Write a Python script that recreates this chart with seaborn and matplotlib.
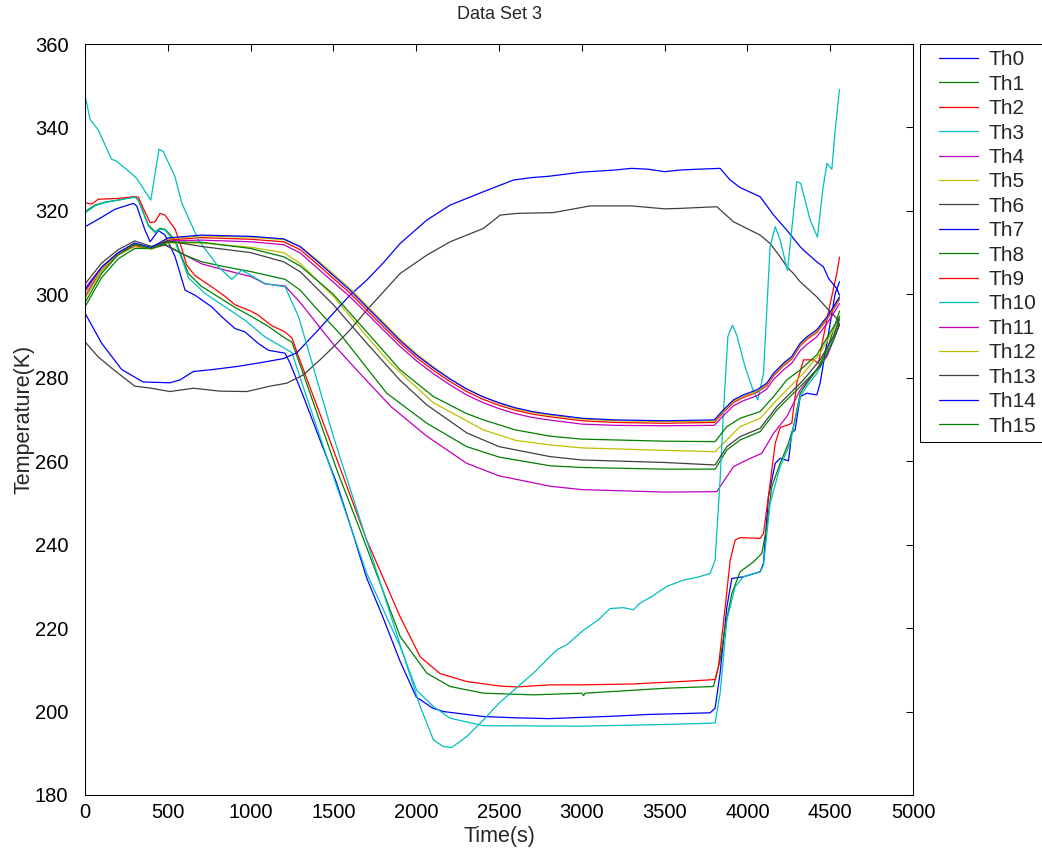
import matplotlib
matplotlib.use("Agg")
import matplotlib.pyplot as plt
from matplotlib.lines import Line2D
from matplotlib.legend_handler import HandlerLine2D
import seaborn as sns
import pandas as pd

# ---------------- data: thermocouple readings (time in s, temperature in K) ----------------
th0_t = [0, 80, 181, 292, 312, 362, 393, 443, 483, 544, 604, 664, 765, 826, 906, 966, 1047, 1107, 1208, 1238,
         1319, 1419, 1520, 1611, 1701, 1800, 1903, 2000, 2100, 2164, 2406, 2600, 2800, 3000, 3200, 3400, 3600, 3775,
         3805, 3835, 3876, 3906, 3976, 4077, 4097, 4127, 4168, 4198, 4248, 4268, 4288, 4319, 4359, 4419, 4439,
         4490, 4530, 4556]
th0_v = [316.2, 318, 320.4, 321.8, 321.2, 315.4, 312.6, 315.3, 314.2, 309, 301, 299.8, 297, 294.6, 291.8, 291, 288.2,
         286.6, 285.9, 283.5, 275.5, 265.1, 254.7, 243.5, 232, 222.5, 212, 203.5, 200.8, 200, 198.8, 198.5, 198.3,
         198.6, 198.9, 199.3, 199.5, 199.7, 200.8, 209.2, 225.1, 231.9, 232.3, 233.5, 235.5, 251.5, 259.5, 260.7,
         260.1, 266.7, 267.5, 275.5, 276.3, 275.9, 278.7, 290.7, 300.2, 303]

th1_t = [0, 60, 121, 200, 302, 322, 383, 423, 453, 483, 544, 584, 624, 700, 800, 900, 1000, 1100, 1208, 1250,
         1300, 1520, 1661, 1903, 2064, 2205, 2406, 2708, 3000, 3010, 3020, 3513, 3795, 3835, 3866, 3906, 3956,
         4037, 4087, 4117, 4147, 4198, 4248, 4278, 4319, 4359, 4419, 4480, 4520, 4556]
th1_v = [319.8, 321.4, 322.1, 322.6, 323.4, 322.6, 316.6, 315, 315.8, 315.6, 313, 309, 305, 302, 299.5, 297, 294.8,
         292.5, 289.5, 288.5, 283, 258, 243.5, 218, 209.2, 206, 204.4, 204, 204.4, 203.8, 204.4, 205.6, 206,
         212.3, 220.3, 228.3, 233.5, 235.9, 237.9, 244.3, 253.9, 259.5, 264.3, 268.3, 276.3, 278.7, 281.9, 286.7,
         291.5, 296]

th2_t = [0, 40, 80, 200, 300, 322, 352, 393, 423, 453, 483, 544, 584, 614, 664, 765, 846, 906, 1000, 1047, 1127,
         1208, 1250, 1290, 1500, 1701, 1903, 2024, 2144, 2305, 2507, 2606, 2809, 3000, 3300, 3600, 3775, 3805,
         3825, 3866, 3896, 3926, 3956, 4077, 4097, 4127, 4168, 4198, 4238, 4268, 4298, 4339, 4399, 4429, 4459,
         4500, 4540, 4556]
th2_v = [322, 321.6, 322.8, 323, 323.4, 323.3, 320.6, 317.2, 317.4, 319.4, 319, 315.6, 311, 307, 304.5, 301.8,
         299.5, 297.5, 296, 295, 292.5, 291, 289.5, 285, 262.7, 241.1, 222.7, 213.1, 209.1, 207.2, 206.1, 205.9,
         206.4, 206.4, 206.6, 207.2, 207.6, 207.7, 210.7, 225.1, 236.3, 241.1, 241.7, 241.5, 242.7, 251.5, 264.3,
         268.1, 268.6, 269.1, 278.7, 284.3, 284.3, 283.5, 289.8, 297.8, 305, 308.9]

th3_t = [0, 60, 121, 200, 302, 322, 383, 423, 453, 483, 544, 584, 624, 725, 846, 966, 1087, 1208, 1250, 1300,
         1500, 1701, 1903, 2003, 2104, 2205, 2406, 3000, 3500, 3775, 3805, 3835, 3876, 3926, 3976, 4077, 4097,
         4137, 4198, 4258, 4288, 4319, 4359, 4419, 4480, 4520, 4556]
th3_v = [319.5, 321.2, 322, 322.6, 323.3, 322.5, 316.3, 314.8, 315.6, 315.4, 312.5, 308.5, 304, 300.2, 297, 293.8,
         289.8, 287, 286, 279.9, 256.3, 233.1, 215.6, 205.1, 201.2, 198.4, 196.6, 196.5, 196.9, 197.2, 197.3,
         204.3, 221.9, 229.9, 232.3, 233.5, 235, 249.9, 258.7, 264.3, 269.9, 275.5, 278, 281, 285.5, 290, 294.5]

th4_t = [0, 100, 200, 300, 400, 483, 604, 705, 846, 1007, 1087, 1208, 1300, 1400, 1500, 1661, 1850, 2064, 2305,
         2500, 2809, 3000, 3500, 3815, 3916, 3996, 4087, 4158, 4238, 4319, 4399, 4480, 4556]
th4_v = [299.5, 306, 309.5, 311.5, 311, 311.8, 309.4, 307.3, 305.8, 304.2, 302.5, 302, 298, 293, 288, 281, 273,
         266, 259.5, 256.5, 254, 253.2, 252.6, 252.7, 258.7, 260.3, 261.9, 266.7, 270.7, 277.1, 281.1, 285.1, 292.6]

th5_t = [0, 100, 200, 300, 400, 500, 700, 1000, 1200, 1300, 1500, 1700, 1842, 2104, 2406, 2600, 2809, 3000, 3500,
         3805, 3876, 3956, 4077, 4178, 4258, 4339, 4439, 4520, 4556]
th5_v = [299, 305.5, 309.5, 311.5, 310.8, 312.3, 312.3, 311.3, 310, 307.4, 299.5, 290, 283.5, 274, 267.5, 265,
         263.9, 263.2, 262.6, 262.3, 265.1, 268.3, 270.3, 274.7, 277.9, 281.1, 285.9, 291.5, 295]

th6_t = [0, 80, 161, 300, 400, 513, 654, 815, 977, 1117, 1218, 1319, 1419, 1500, 1601, 1701, 1903, 2064, 2205,
         2406, 2507, 2607, 2829, 3050, 3300, 3500, 3594, 3700, 3815, 3916, 4077, 4137, 4198, 4238, 4278, 4319,
         4419, 4500, 4540, 4556]
th6_v = [288.6, 285, 282.3, 278, 277.5, 276.7, 277.5, 276.8, 276.7, 278, 278.7, 280.7, 284.3, 287.4, 291.5, 296.2,
         305, 309.4, 312.6, 315.8, 319, 319.4, 319.6, 321.2, 321.2, 320.5, 320.6, 320.8, 321, 317.4, 314.2, 312.2,
         309, 306.6, 305, 303, 299.4, 295.8, 294.2, 292.6]

th7_t = [0, 100, 221, 350, 513, 574, 654, 775, 916, 1057, 1198, 1279, 1409, 1500, 1600, 1701, 1800, 1903, 2064,
         2205, 2406, 2587, 2700, 2800, 3000, 3200, 3300, 3400, 3500, 3594, 3700, 3835, 3896, 3956, 4077, 4158,
         4238, 4319, 4339, 4419, 4459, 4490, 4540, 4556]
th7_v = [295.5, 288.3, 282, 279, 278.8, 279.5, 281.5, 282, 282.7, 283.6, 284.6, 286, 291.5, 295.5, 299.8, 303.4,
         307.5, 312.2, 317.8, 321.4, 324.6, 327.4, 328, 328.3, 329.3, 329.8, 330.2, 330, 329.4, 329.8, 330,
         330.2, 327.4, 325.6, 323.4, 319, 315.4, 311.4, 310.6, 307.8, 306.6, 303.8, 301.4, 299.8]

th8_t = [0, 100, 200, 300, 400, 483, 604, 705, 846, 1007, 1208, 1300, 1400, 1540, 1822, 2064, 2305, 2500, 2809,
         3000, 3500, 3805, 3876, 3956, 4077, 4178, 4258, 4339, 4439, 4520, 4556]
th8_v = [297, 304, 308.5, 311, 311, 312, 309.4, 307.8, 306.6, 305.4, 303.6, 301, 296.5, 290.5, 276.3, 269.1,
         263.5, 261, 258.9, 258.5, 258.1, 258.1, 262.7, 265.1, 267.1, 272.3, 275.5, 278.7, 282.7, 289, 293]

# upper cluster shares one time base
tb_t = [0, 100, 200, 300, 400, 500, 700, 1000, 1200, 1300, 1400, 1500, 1600, 1700, 1800, 1900, 2000, 2100, 2200,
        2300, 2400, 2500, 2600, 2700, 2800, 3000, 3200, 3500, 3800, 3855, 3916, 3976, 4057, 4117, 4158, 4218,
        4268, 4319, 4359, 4419, 4480, 4520, 4556]
th9_v = [300.5, 306, 309.6, 311.8, 311, 313, 313.6, 313.2, 312.6, 310.7, 307.3, 303.8, 300.3, 296.3, 292.3,
         288.4, 284.9, 281.9, 279.2, 276.8, 274.9, 273.4, 272.2, 271.3, 270.7, 269.7, 269.3, 269.1, 269.3, 271.7,
         274.1, 275.3, 276.5, 278.1, 280.5, 282.9, 284.5, 287.7, 289.2, 290.9, 294, 296.4, 298.8]

th10_t = [0, 30, 80, 160, 187, 250, 312, 397, 447, 473, 543, 584, 685, 805, 886, 946, 1087, 1208, 1290, 1500,
          1903, 2024, 2104, 2164, 2215, 2305, 2406, 2500, 2600, 2708, 2849, 2909, 3010, 3100, 3171, 3250, 3312,
          3352, 3420, 3513, 3614, 3700, 3775, 3805, 3835, 3855, 3882, 3910, 3936, 3986, 4037, 4063, 4097, 4137,
          4168, 4198, 4242, 4298, 4322, 4379, 4423, 4455, 4480, 4510, 4530, 4556]
th10_v = [347.8, 342, 339.4, 332.4, 332, 330, 327.8, 322.6, 334.8, 334.2, 328.2, 321.9, 313, 306.6, 303.6, 305.8,
          302.6, 301.8, 294.6, 265.9, 216, 201.2, 193.2, 191.6, 191.4, 194, 198, 202, 205.5, 209.2, 214.8, 216,
          219.5, 222, 224.7, 224.9, 224.4, 226, 227.5, 230, 231.5, 232.2, 233.1, 236.3, 255.5, 271.5, 289.9,
          292.6, 290.2, 282.6, 276.7, 274.7, 281, 311.4, 316.2, 313, 305.7, 327, 326.6, 317.8, 313.7, 325,
          331.4, 330, 339.4, 349.1]

th11_v = [301.5, 306.5, 310, 312, 311, 312.8, 313, 312.6, 311.9, 309.9, 306.4, 302.9, 299.4, 295.5, 291.5, 287.6,
          284.1, 281.1, 278.4, 276, 274.1, 272.6, 271.4, 270.5, 269.9, 268.9, 268.6, 268.5, 268.6, 270.9, 273.3,
          274.5, 275.7, 277.3, 279.6, 281.9, 283.5, 286.5, 288, 289.8, 293, 295.4, 297.8]
th12_v = [300.5, 306, 309.8, 312, 311, 313.3, 314, 313.7, 313.1, 311.5, 308.3, 304.9, 301.4, 297.4, 293.4, 289.4,
          285.8, 282.7, 279.9, 277.4, 275.5, 273.9, 272.6, 271.7, 271.1, 270.1, 269.7, 269.5, 269.6, 272, 274.4,
          275.6, 276.8, 278.4, 280.8, 283.2, 284.8, 288, 289.5, 291.2, 294.3, 296.7, 299.1]

th13_t = [0, 100, 200, 300, 400, 500, 700, 1000, 1200, 1300, 1500, 1701, 1900, 2064, 2305, 2500, 2809, 3000, 3500,
          3805, 3876, 3956, 4077, 4178, 4258, 4339, 4439, 4520, 4556]
th13_v = [302.5, 307.5, 310.7, 312.8, 311.5, 312.8, 311.5, 310, 307.8, 305.4, 297.5, 288.3, 279.5, 273.5, 266.8,
          263.5, 261.1, 260.3, 259.7, 259.1, 263.5, 265.9, 267.9, 273.1, 276.3, 279.5, 284.3, 290, 294]

th14_v = [301, 306.5, 310, 312.3, 311.2, 313.5, 314.2, 313.9, 313.3, 311.4, 308, 304.5, 301, 297, 293, 289, 285.5,
          282.5, 279.8, 277.4, 275.5, 274, 272.8, 271.9, 271.3, 270.3, 269.9, 269.7, 269.9, 272.3, 274.7, 275.9,
          277.1, 278.7, 281.1, 283.5, 285.1, 288.3, 289.8, 291.5, 294.6, 297, 299.4]

th15_t = [0, 100, 200, 300, 400, 500, 700, 1000, 1200, 1300, 1500, 1761, 1900, 2104, 2300, 2406, 2600, 2809, 3000,
          3500, 3805, 3876, 3956, 4077, 4158, 4238, 4319, 4419, 4520, 4556]
th15_v = [298, 305, 309.5, 312, 311, 312.5, 312.5, 311, 309, 306.8, 300, 288.3, 282, 275.5, 271.5, 269.9, 267.5,
          266, 265.3, 264.8, 264.7, 268.3, 270.3, 271.9, 275.5, 279.5, 281.9, 285.5, 292.2, 294.6]

series = {
    "Th0": (th0_t, th0_v), "Th1": (th1_t, th1_v), "Th2": (th2_t, th2_v), "Th3": (th3_t, th3_v),
    "Th4": (th4_t, th4_v), "Th5": (th5_t, th5_v), "Th6": (th6_t, th6_v), "Th7": (th7_t, th7_v),
    "Th8": (th8_t, th8_v), "Th9": (tb_t, th9_v), "Th10": (th10_t, th10_v), "Th11": (tb_t, th11_v),
    "Th12": (tb_t, th12_v), "Th13": (th13_t, th13_v), "Th14": (tb_t, th14_v), "Th15": (th15_t, th15_v),
}
names = list(series.keys())

x_ticks = [0, 500, 1000, 1500, 2000, 2500, 3000, 3500, 4000, 4500, 5000]
y_ticks = [180, 200, 220, 240, 260, 280, 300, 320, 340, 360]

# classic 7-colour line cycle
cycle = [(0, 0, 1), (0, 0.5, 0), (1, 0, 0), (0, 0.75, 0.75),
         (0.75, 0, 0.75), (0.75, 0.75, 0), (0.25, 0.25, 0.25)]
palette = {n: cycle[i % 7] for i, n in enumerate(names)}

rows = []
for n in names:
    ts, vs = series[n]
    for t, v in zip(ts, vs):
        rows.append((n, t, v))
df = pd.DataFrame(rows, columns=["sensor", "time", "temp"])

# ---------------- figure ----------------
sns.set_theme(style="white")
plt.rcParams["font.family"] = ["Liberation Sans", "DejaVu Sans"]
plt.rcParams["xtick.direction"] = "in"
plt.rcParams["ytick.direction"] = "in"

fig = plt.figure(figsize=(10.42, 8.55), dpi=100)
ax = fig.add_axes([0.0816, 0.0702, 0.7946, 0.8783])

sns.lineplot(data=df, x="time", y="temp", hue="sensor", hue_order=names, palette=palette,
             estimator=None, sort=False, linewidth=0.9, legend=False, ax=ax)

ax.set_xlim(0, 5000)
ax.set_ylim(180, 360)
ax.set_xticks(x_ticks)
ax.set_yticks(y_ticks)
ax.tick_params(axis="both", which="both", direction="in", length=5, width=0.75,
               top=True, right=True, labelsize=14.5, colors="black")
ax.tick_params(axis="x", pad=6)
ax.tick_params(axis="y", pad=12)
for s in ax.spines.values():
    s.set_visible(True)
    s.set_color("black")
    s.set_linewidth(0.75)

ax.set_title("Data Set 3", fontsize=13, pad=18)
ax.set_xlabel("Time(s)", fontsize=15.5, labelpad=3)
ax.set_ylabel("Temperature(K)", fontsize=15.5, labelpad=0.5)

# legend keys start a little inside the box, leaving a gap before the line
key_handler = HandlerLine2D(xpad=0.6)
leg = ax.legend(ax.lines, names, loc="upper left", bbox_to_anchor=(1.0085, 1.0), borderaxespad=0,
                fontsize=15, handlelength=2.5, handletextpad=0.5, labelspacing=0.26, borderpad=0.3,
                frameon=True, fancybox=False, framealpha=1, edgecolor="black",
                handler_map={Line2D: key_handler})
leg.get_frame().set_linewidth(0.75)

fig.savefig("out.png", dpi=100)
